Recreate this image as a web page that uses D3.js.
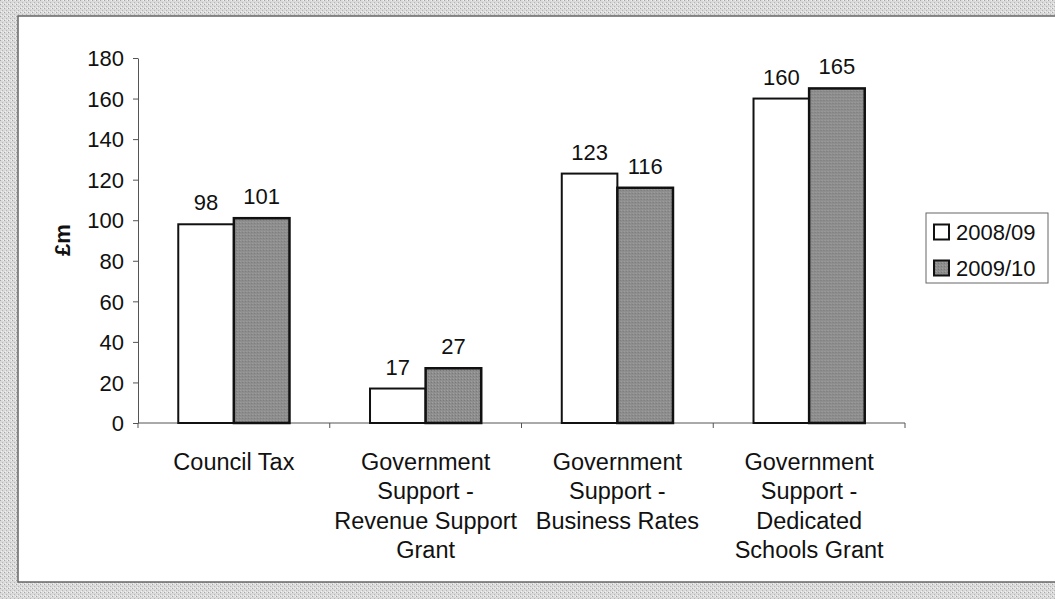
<!DOCTYPE html>
<html><head><meta charset="utf-8">
<script src="https://cdn.jsdelivr.net/npm/d3@7"></script>
<style>body{margin:0;background:#fff}svg{display:block}text{font-family:"Liberation Sans",Arial,sans-serif;fill:#111}</style>
</head><body>
<svg id="c" width="1055" height="599"></svg>
<script>
const categories = [["Council Tax"],["Government","Support -","Revenue Support","Grant"],["Government","Support -","Business Rates"],["Government","Support -","Dedicated","Schools Grant"]];
const seriesNames = ["2008/09","2009/10"];
const values2008 = [98,17,123,160];
const values2009 = [101,27,116,165];
const yTicks = [0,20,40,60,80,100,120,140,160,180];

const FS = 22;
const svg = d3.select("#c");
const defs = svg.append("defs");
const pat = defs.append("pattern").attr("id","noise").attr("width",4).attr("height",4).attr("patternUnits","userSpaceOnUse");
pat.append("rect").attr("width",4).attr("height",4).attr("fill","#dadada");
pat.append("rect").attr("x",0).attr("y",0).attr("width",1).attr("height",1).attr("fill","#a5a5a5");
pat.append("rect").attr("x",2).attr("y",2).attr("width",1).attr("height",1).attr("fill","#b5b5b5");
pat.append("rect").attr("x",3).attr("y",0).attr("width",1).attr("height",1).attr("fill","#f2f2f2");
pat.append("rect").attr("x",1).attr("y",3).attr("width",1).attr("height",1).attr("fill","#f2f2f2");
const gp = defs.append("pattern").attr("id","grey").attr("width",3).attr("height",3).attr("patternUnits","userSpaceOnUse");
gp.append("rect").attr("width",3).attr("height",3).attr("fill","#8e8e8e");
gp.append("rect").attr("x",1).attr("y",1).attr("width",1).attr("height",1).attr("fill","#7a7a7a");
gp.append("rect").attr("x",2).attr("y",0).attr("width",1).attr("height",1).attr("fill","#a0a0a0");

svg.append("rect").attr("width",1055).attr("height",599).attr("fill","url(#noise)");
svg.append("rect").attr("x",18).attr("y",16).attr("width",1050).attr("height",566).attr("fill","#fff").attr("stroke","#666").attr("stroke-width",1.5);

const x0 = 138, x1 = 905, yTop = 58, yBot = 423;
const x = d3.scaleBand().domain(d3.range(categories.length)).range([x0,x1]).paddingInner(0.42).paddingOuter(0.21);
const xs = d3.scaleBand().domain(d3.range(2)).range([0,x.bandwidth()]);
const y = d3.scaleLinear().domain([0,180]).range([yBot,yTop]);

// axes
const ya = svg.append("g").attr("transform",`translate(${x0},0)`)
  .call(d3.axisLeft(y).tickValues(yTicks).tickSize(5).tickSizeOuter(0));
ya.select(".domain").attr("stroke","#555");
ya.selectAll(".tick line").attr("stroke","#555");
ya.selectAll(".tick text").attr("font-size",FS).attr("x",-14).attr("dy","0.35em").attr("font-family","Liberation Sans, Arial, sans-serif").attr("fill","#111");

const bandStep = (x1-x0)/categories.length;
const xa = svg.append("g").attr("transform",`translate(0,${yBot})`);
xa.append("line").attr("x1",x0).attr("x2",x1).attr("stroke","#555");
xa.selectAll("line.t").data(d3.range(categories.length+1)).join("line").attr("class","t")
  .attr("x1",i=>x0+i*bandStep).attr("x2",i=>x0+i*bandStep).attr("y1",0).attr("y2",5).attr("stroke","#555");

// bars
const data = categories.map((c,i)=>({i, vals:[values2008[i],values2009[i]]}));
const groups = svg.selectAll("g.grp").data(data).join("g").attr("class","grp").attr("transform",d=>`translate(${x(d.i)},0)`);
groups.selectAll("rect").data(d=>d.vals.map((v,k)=>({v,k}))).join("rect")
  .attr("x",d=>xs(d.k)).attr("width",xs.bandwidth()).attr("y",d=>y(d.v)).attr("height",d=>yBot-y(d.v))
  .attr("fill",d=>d.k===0?"#fff":"url(#grey)").attr("stroke","#111").attr("stroke-width",d=>d.k===0?2:2.5);
groups.selectAll("text.lbl").data(d=>d.vals.map((v,k)=>({v,k}))).join("text").attr("class","lbl")
  .attr("x",d=>xs(d.k)+xs.bandwidth()/2).attr("y",d=>y(d.v)-14).attr("text-anchor","middle").attr("font-size",FS).text(d=>d.v);

// category labels
const cl = svg.selectAll("text.cat").data(categories).join("text").attr("class","cat")
  .attr("x",(d,i)=>x0+(i+0.5)*bandStep).attr("y",470).attr("text-anchor","middle").attr("font-size",23.5);
cl.selectAll("tspan").data(d=>d).join("tspan").attr("x",function(){return this.parentNode.getAttribute("x");})
  .attr("dy",(d,j)=>j===0?0:29.3).text(d=>d);

// y title
svg.append("text").attr("transform","translate(70,240) rotate(-90)").attr("text-anchor","middle")
  .attr("font-size",FS).attr("font-weight","bold").text("£m");

// legend
const lg = svg.append("g").attr("transform","translate(926,213)");
lg.append("rect").attr("width",122).attr("height",70).attr("fill","#fff").attr("stroke","#666");
const li = lg.selectAll("g").data(seriesNames).join("g").attr("transform",(d,i)=>`translate(8,${19+i*36})`);
li.append("rect").attr("x",0).attr("y",-7.5).attr("width",15).attr("height",15)
  .attr("fill",(d,i)=>i===0?"#fff":"url(#grey)").attr("stroke","#111").attr("stroke-width",2);
li.append("text").attr("x",22).attr("dy","0.35em").attr("font-size",FS).text(d=>d);
</script>
</body></html>
